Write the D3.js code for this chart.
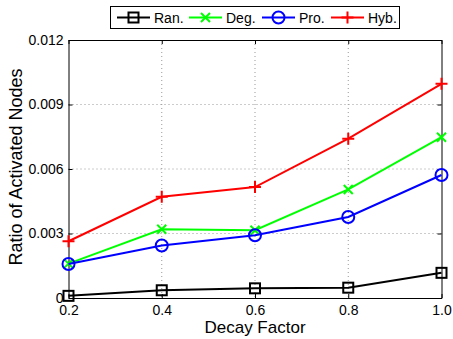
<!DOCTYPE html>
<html><head><meta charset="utf-8">
<script src="https://cdn.jsdelivr.net/npm/d3@7"></script>
<style>body{margin:0;background:#fff}svg{display:block}text{font-family:"Liberation Sans",Arial,sans-serif}</style>
</head><body><svg id="c" width="453" height="339"></svg>
<script>
const xValues = [0.2, 0.4, 0.6, 0.8, 1.0];
const ranValues = [0.00010, 0.00036, 0.00045, 0.00048, 0.00117];
const degValues = [0.00160, 0.00320, 0.00315, 0.00505, 0.00748];
const proValues = [0.00158, 0.00244, 0.00292, 0.00377, 0.00572];
const hybValues = [0.00264, 0.00471, 0.00516, 0.00741, 0.00996];
const seriesNames = ["Ran.", "Deg.", "Pro.", "Hyb."];
const xTicks = [0.2, 0.4, 0.6, 0.8, 1.0];
const xTickLabels = ["0.2", "0.4", "0.6", "0.8", "1.0"];
const yTicks = [0, 0.003, 0.006, 0.009, 0.012];
const yTickLabels = ["0", "0.003", "0.006", "0.009", "0.012"];

const series = [
  {name: seriesNames[0], values: ranValues, color: "#000000", marker: "square"},
  {name: seriesNames[1], values: degValues, color: "#00ff00", marker: "x"},
  {name: seriesNames[2], values: proValues, color: "#0000ff", marker: "circle"},
  {name: seriesNames[3], values: hybValues, color: "#ff0000", marker: "plus"}
];

const svg = d3.select("#c");
const L = 68.5, R = 441.5, T = 40, B = 298;
const x = d3.scaleLinear().domain([0.2, 1.0]).range([L, R]);
const y = d3.scaleLinear().domain([0, 0.012]).range([B, T]);

// grid
const g = svg.append("g");
g.selectAll(".gx").data(xTicks.slice(1, -1)).enter().append("line")
  .attr("x1", d => x(d)).attr("x2", d => x(d)).attr("y1", T).attr("y2", B)
  .attr("stroke", "#999").attr("stroke-width", 1).attr("stroke-dasharray", "1,3");
g.selectAll(".gy").data(yTicks.slice(1, -1)).enter().append("line")
  .attr("y1", d => y(d)).attr("y2", d => y(d)).attr("x1", L).attr("x2", R)
  .attr("stroke", "#999").attr("stroke-width", 1).attr("stroke-dasharray", "1,3");

// axes
const xAxis = d3.axisBottom(x).tickValues(xTicks).tickFormat((d, i) => xTickLabels[i]).tickSizeInner(-4).tickSizeOuter(0).tickPadding(7);
const yAxis = d3.axisLeft(y).tickValues(yTicks).tickFormat((d, i) => yTickLabels[i]).tickSizeInner(-4).tickSizeOuter(0).tickPadding(5);
const xTop = d3.axisTop(x).tickValues(xTicks).tickFormat("").tickSizeInner(-4).tickSizeOuter(0);
const yRight = d3.axisRight(y).tickValues(yTicks).tickFormat("").tickSizeInner(-4).tickSizeOuter(0);

function style(sel) {
  sel.selectAll("path").attr("stroke", "#000").attr("stroke-width", 1);
  sel.selectAll("line").attr("stroke", "#000");
  sel.selectAll("text").attr("fill", "#000").style("font-size", "14px").style("font-family", '"Liberation Sans",Arial,sans-serif');
}
svg.append("g").attr("transform", `translate(0,${B})`).call(xAxis).call(style);
svg.append("g").attr("transform", `translate(${L},0)`).call(yAxis).call(style);
svg.append("g").attr("transform", `translate(0,${T})`).call(xTop).call(style);
svg.append("g").attr("transform", `translate(${R},0)`).call(yRight).call(style);

// titles
svg.append("text").attr("x", (L + R) / 2).attr("y", 332.5).attr("text-anchor", "middle")
  .style("font-size", "17px").text("Decay Factor");
svg.append("text").attr("transform", `translate(21.5,167) rotate(-90)`).attr("text-anchor", "middle")
  .style("font-size", "18px").text("Ratio of Activated Nodes");

function drawMarker(sel, type, color, cx, cy) {
  if (type === "square") {
    sel.append("rect").attr("x", cx - 5).attr("y", cy - 5).attr("width", 10).attr("height", 10)
      .attr("fill", "none").attr("stroke", color).attr("stroke-width", 2);
  } else if (type === "circle") {
    sel.append("circle").attr("cx", cx).attr("cy", cy).attr("r", 6)
      .attr("fill", "none").attr("stroke", color).attr("stroke-width", 2);
  } else if (type === "x") {
    sel.append("path").attr("d", `M${cx-4.5},${cy-4.5}L${cx+4.5},${cy+4.5}M${cx-4.5},${cy+4.5}L${cx+4.5},${cy-4.5}`)
      .attr("stroke", color).attr("stroke-width", 2);
  } else if (type === "plus") {
    sel.append("path").attr("d", `M${cx-6},${cy}L${cx+6},${cy}M${cx},${cy-6}L${cx},${cy+6}`)
      .attr("stroke", color).attr("stroke-width", 2);
  }
}

const line = d3.line().x((d, i) => x(xValues[i])).y(d => y(d));
series.forEach(s => {
  const sg = svg.append("g");
  sg.append("path").attr("d", line(s.values)).attr("fill", "none").attr("stroke", s.color).attr("stroke-width", 2);
  s.values.forEach((v, i) => drawMarker(sg, s.marker, s.color, x(xValues[i]), y(v)));
});

// legend
const lg = svg.append("g");
lg.append("rect").attr("x", 110.5).attr("y", 6.5).attr("width", 289).attr("height", 22)
  .attr("fill", "#fff").attr("stroke", "#000").attr("stroke-width", 1);
const legX = [117, 189, 262, 331];
series.forEach((s, i) => {
  const x0 = legX[i], cy = 17.5;
  lg.append("line").attr("x1", x0).attr("x2", x0 + 33).attr("y1", cy).attr("y2", cy).attr("stroke", s.color).attr("stroke-width", 2);
  drawMarker(lg, s.marker, s.color, x0 + 16.5, cy);
  lg.append("text").attr("x", x0 + 37).attr("y", cy + 5).style("font-size", "14px").text(s.name);
});
</script></body></html>
